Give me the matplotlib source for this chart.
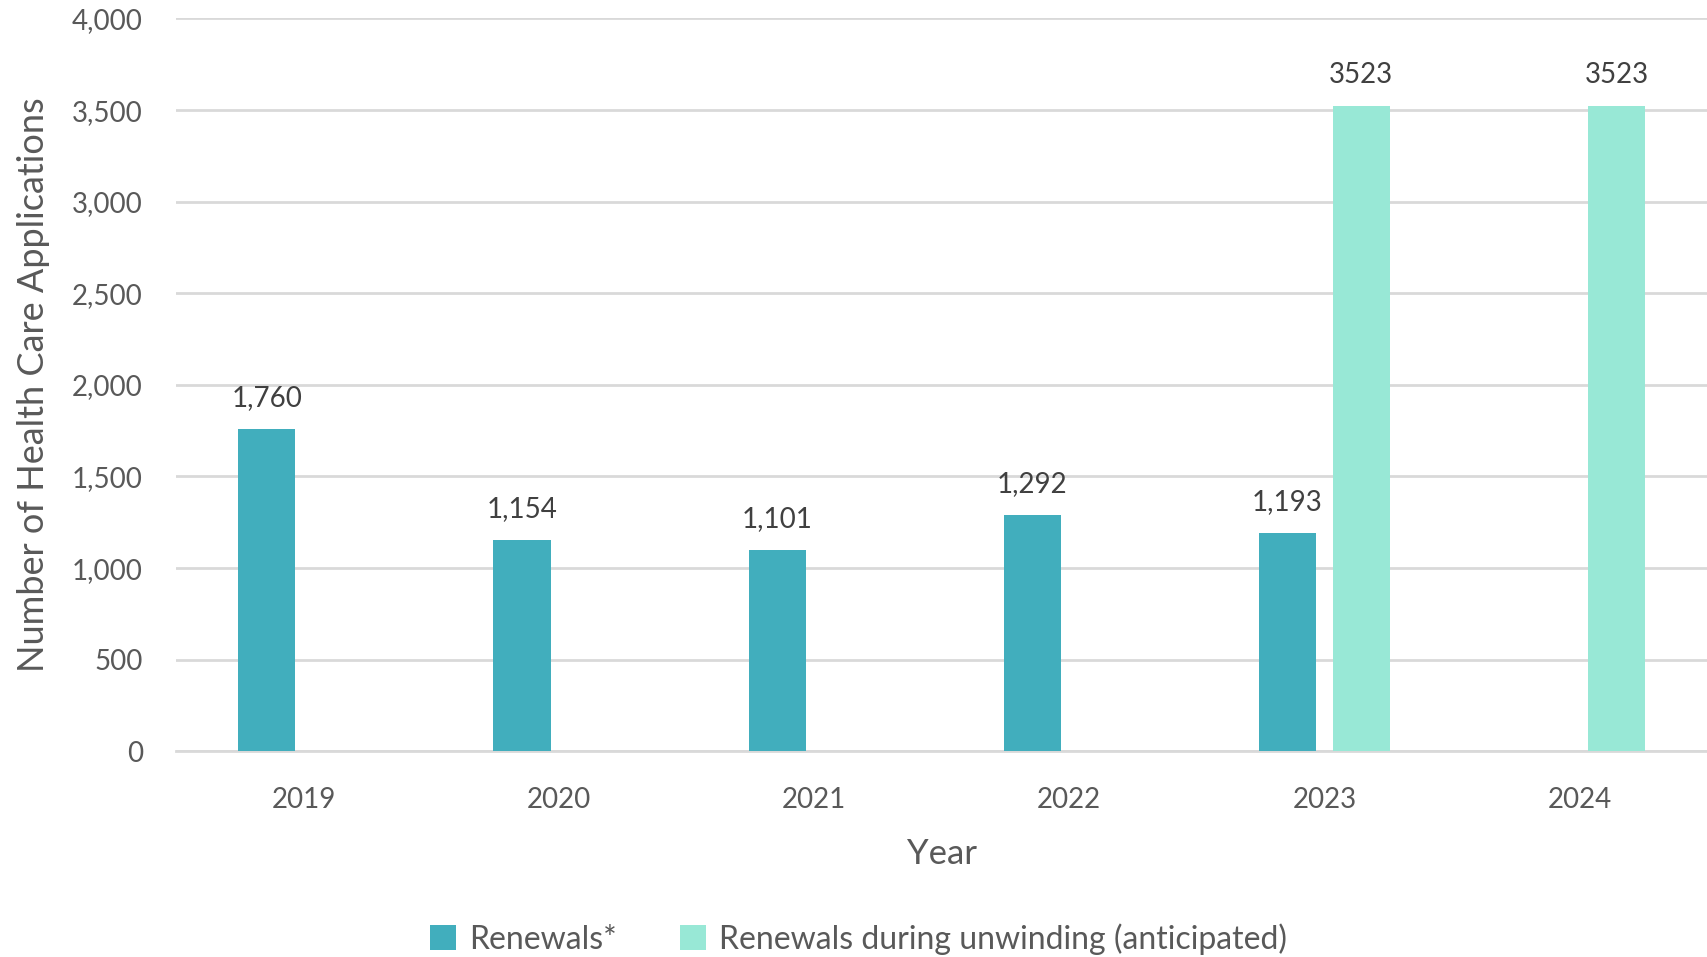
import numpy as np
import matplotlib; matplotlib.use("Agg")
import matplotlib.pyplot as plt
from matplotlib.ticker import FuncFormatter

plt.rcParams["font.family"] = ["Lato", "DejaVu Sans"]

years = ["2019", "2020", "2021", "2022", "2023", "2024"]
renewals = [1760, 1154, 1101, 1292, 1193, np.nan]
anticipated = [np.nan, np.nan, np.nan, np.nan, 3523, 3523]
renewal_labels = ["1,760", "1,154", "1,101", "1,292", "1,193", ""]
anticipated_labels = ["", "", "", "", "3523", "3523"]

c_ren = "#41aebd"
c_ant = "#98e8d6"
txt = "#595959"
grid = "#d9d9d9"

fig = plt.figure(figsize=(17.07, 9.57), dpi=100)
ax = fig.add_axes([0.1033, 0.215, 0.8967, 0.7657])

x = np.arange(len(years))
w = 0.224
off = 0.145
b1 = ax.bar(x - off, renewals, w, color=c_ren, label="Renewals*", zorder=3)
b2 = ax.bar(x + off, anticipated, w, color=c_ant, label="Renewals during unwinding (anticipated)", zorder=3)

for xi, v, lab in zip(x, renewals, renewal_labels):
    if lab:
        ax.text(xi - off, v + 95, lab, ha="center", va="bottom", fontsize=20, color="#404040")
for xi, v, lab in zip(x, anticipated, anticipated_labels):
    if lab:
        ax.text(xi + off, v + 95, lab, ha="center", va="bottom", fontsize=20, color="#404040")

ax.set_xlim(-0.5, len(years) - 0.5)
ax.set_ylim(0, 4000)
ax.set_yticks(np.arange(0, 4001, 500))
ax.yaxis.set_major_formatter(FuncFormatter(lambda v, p: f"{int(v):,}"))
ax.set_xticks(x)
ax.set_xticklabels(years)
ax.grid(axis="y", color=grid, lw=2, zorder=0)
for s in ["top", "right", "left"]:
    ax.spines[s].set_visible(False)
ax.spines["bottom"].set_color(grid)
ax.spines["bottom"].set_linewidth(2)
ax.tick_params(axis="both", length=0, colors=txt, labelsize=20)
ax.tick_params(axis="x", pad=26)
ax.tick_params(axis="y", pad=24)

ax.set_xlabel("Year", fontsize=25, color=txt, labelpad=18)
ax.set_ylabel("Number of Health Care Applications", fontsize=26, color=txt, labelpad=16)

fig.legend(handles=[b1, b2], loc="center", bbox_to_anchor=(0.503, 0.019), ncol=2,
           frameon=False, fontsize=23, labelcolor=txt, handlelength=0.8, handleheight=0.8,
           handletextpad=0.4, columnspacing=2.0)

fig.savefig("out.png", dpi=100)
